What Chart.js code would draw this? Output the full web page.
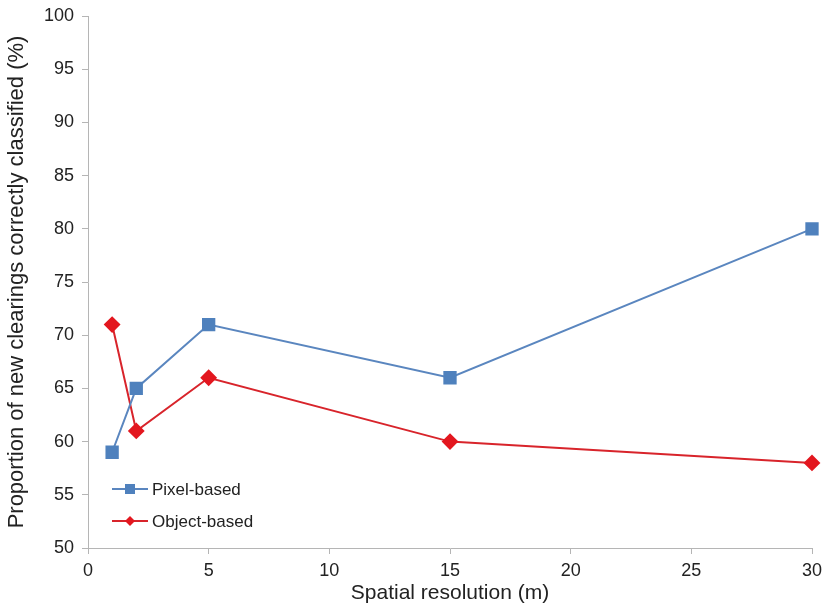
<!DOCTYPE html>
<html>
<head>
<meta charset="utf-8">
<script src="https://cdn.jsdelivr.net/npm/chart.js@4"></script>
<style>
  html, body { margin: 0; padding: 0; background: #fff; }
  #wrap { width: 823px; height: 610px; }
</style>
</head>
<body>
<div id="wrap"><canvas id="chart" width="823" height="610"></canvas></div>
<script>
const resolutions = [1, 2, 5, 15, 30]
const pixelBased = [59, 65, 71, 66, 80]
const objectBased = [71, 61, 66, 60, 58]
const seriesNames = ["Pixel-based", "Object-based"]

const FONT = "'Liberation Sans', Arial, sans-serif"
const BLUE = "#4f81bd"
const RED = "#e3171f"

const toPoints = (ys) => resolutions.map((x, i) => ({ x, y: ys[i] }))

// Legend drawn inside the plot, bottom-left
const insideLegend = {
  id: "insideLegend",
  afterDraw(chart) {
    const ctx = chart.ctx
    const left = chart.chartArea.left + 24
    const rows = [chart.chartArea.bottom - 59, chart.chartArea.bottom - 27]
    ctx.save()
    chart.data.datasets.forEach((ds, i) => {
      const y = rows[i]
      ctx.strokeStyle = ds.borderColor
      ctx.lineWidth = 2
      ctx.beginPath()
      ctx.moveTo(left, y)
      ctx.lineTo(left + 36, y)
      ctx.stroke()
      ctx.fillStyle = ds.pointBackgroundColor
      const cx = left + 18
      if (ds.pointStyle === "rect") {
        ctx.fillRect(cx - 5, y - 5, 10, 10)
      } else {
        ctx.beginPath()
        ctx.moveTo(cx, y - 5)
        ctx.lineTo(cx + 5, y)
        ctx.lineTo(cx, y + 5)
        ctx.lineTo(cx - 5, y)
        ctx.closePath()
        ctx.fill()
      }
      ctx.fillStyle = "#222"
      ctx.font = "17px " + FONT
      ctx.textBaseline = "middle"
      ctx.fillText(ds.label, left + 40, y + 1)
    })
    ctx.restore()
  },
}

new Chart(document.getElementById("chart"), {
  type: "scatter",
  data: {
    datasets: [
      {
        label: seriesNames[0],
        data: toPoints(pixelBased),
        showLine: true,
        clip: false,
        borderColor: "#5a86bf",
        borderWidth: 2,
        pointStyle: "rect",
        pointRadius: 8,
        pointBackgroundColor: BLUE,
        pointBorderColor: BLUE,
      },
      {
        label: seriesNames[1],
        data: toPoints(objectBased),
        showLine: true,
        clip: false,
        borderColor: "#d8242b",
        borderWidth: 2,
        pointStyle: "rectRot",
        pointRadius: 7,
        pointBackgroundColor: RED,
        pointBorderColor: RED,
      },
    ],
  },
  options: {
    responsive: false,
    animation: false,
    layout: { padding: { top: 16, right: 11, left: 0, bottom: 0 } },
    plugins: { legend: { display: false }, tooltip: { enabled: false } },
    scales: {
      x: {
        type: "linear",
        min: 0,
        max: 30,
        afterFit: (s) => {
          s.height = 62
          s.paddingLeft = 0
          s.paddingRight = 0
        },
        ticks: { stepSize: 5, color: "#222", padding: 6, font: { family: FONT, size: 18 } },
        grid: { drawOnChartArea: false, drawTicks: true, tickLength: 6, color: "#b5b5b5" },
        border: { color: "#b5b5b5", width: 1 },
        title: {
          display: true,
          text: "Spatial resolution (m)",
          color: "#222",
          padding: { top: 0 },
          font: { family: FONT, size: 21 },
        },
      },
      y: {
        min: 50,
        max: 100,
        afterFit: (s) => {
          s.width = 88
          s.paddingTop = 0
          s.paddingBottom = 0
        },
        ticks: { stepSize: 5, color: "#222", padding: 8, font: { family: FONT, size: 18 } },
        grid: { drawOnChartArea: false, drawTicks: true, tickLength: 6, color: "#b5b5b5" },
        border: { color: "#b5b5b5", width: 1 },
        title: {
          display: true,
          text: "Proportion of new clearings correctly classified (%)",
          color: "#222",
          padding: { top: 4, bottom: 4 },
          font: { family: FONT, size: 22 },
        },
      },
    },
  },
  plugins: [insideLegend],
})
</script>
</body>
</html>
